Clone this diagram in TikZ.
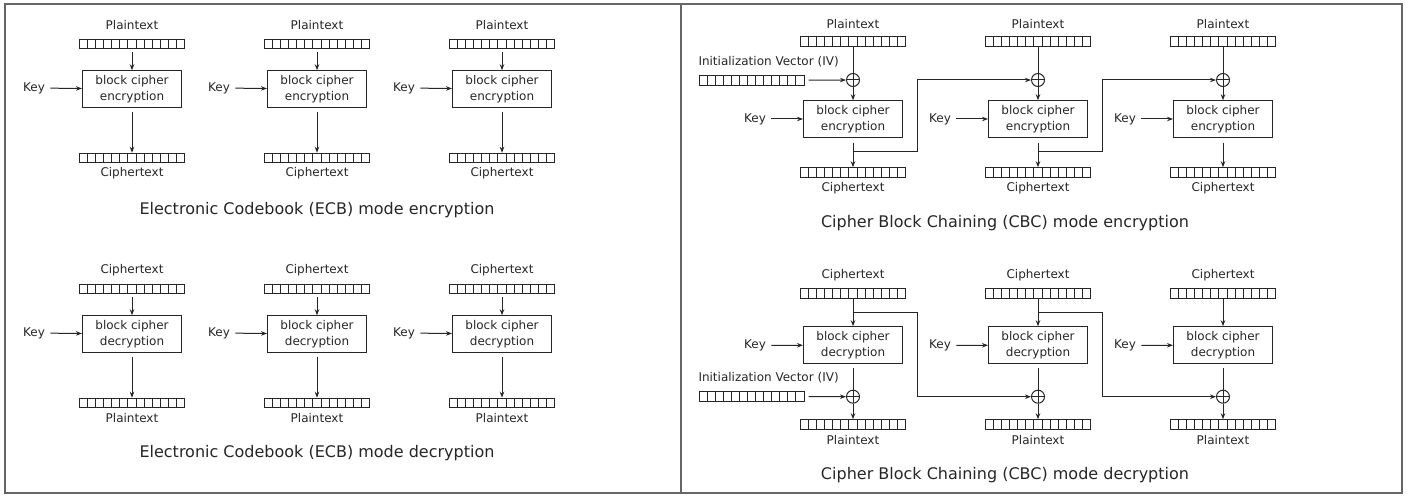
\documentclass[tikz,border=0pt]{standalone}
\usepackage{fontspec}
\setmainfont{DejaVu Sans}
\usetikzlibrary{positioning,calc,arrows.meta}

\begin{document}
\begin{tikzpicture}[x=1pt,y=-1pt,color=black!85,line width=1pt,
    >={Stealth[length=6pt,width=4.5pt]},
    every node/.style={inner sep=0pt, font=\fontsize{12}{15.5}\selectfont},
    register/.style={draw, minimum width=105pt, minimum height=9.5pt,
        path picture={\foreach \k in {1,...,12}
            \draw ([xshift={\k*8.077pt}]path picture bounding box.south west)
               -- ([xshift={\k*8.077pt}]path picture bounding box.north west);}},
    cipherbox/.style={draw, align=center, minimum width=99pt, minimum height=36.5pt},
    xor/.style={draw, circle, minimum size=13pt,
        path picture={\draw (path picture bounding box.north) -- (path picture bounding box.south)
            (path picture bounding box.west) -- (path picture bounding box.east);}},
    title/.style={font=\fontsize{16}{19}\selectfont},
    frame/.style={draw=black!60, line width=2pt}]
    \useasboundingbox (0,0) rectangle (1408,497);
    \draw[frame] (4.5,4.5) rectangle (1401.5,492.5);
    \draw[frame] (681,4.5) -- (681,492.5);

    % ECB encryption
    \foreach \i in {0,1,2} {
        \pgfmathsetmacro{\x}{132+185*\i}
        \node (ep\i) at (\x,25) {Plaintext};
        \node[register] (epr\i) at (\x,44) {};
        \node[cipherbox] (eb\i) at (\x,89) {block cipher\\encryption};
        \node (ek\i) at (\x-98,88) {Key};
        \node[register] (ecr\i) at (\x,158) {};
        \node (ec\i) at (\x,173) {Ciphertext};
        \path[->]
            (epr\i) edge [shorten <=3pt] (eb\i)
            (ek\i) edge [shorten <=5pt] (eb\i)
            (eb\i) edge [shorten <=4pt] (ecr\i);
    }
    \node[title] (ecbenc) at (317,210) {Electronic Codebook (ECB) mode encryption};

    % ECB decryption
    \foreach \i in {0,1,2} {
        \pgfmathsetmacro{\x}{132+185*\i}
        \node (dc\i) at (\x,270) {Ciphertext};
        \node[register] (dcr\i) at (\x,289) {};
        \node[cipherbox] (db\i) at (\x,334) {block cipher\\decryption};
        \node (dk\i) at (\x-98,333) {Key};
        \node[register] (dpr\i) at (\x,403) {};
        \node (dp\i) at (\x,418) {Plaintext};
        \path[->]
            (dcr\i) edge [shorten <=3pt] (db\i)
            (dk\i) edge [shorten <=5pt] (db\i)
            (db\i) edge [shorten <=4pt] (dpr\i);
    }
    \node[title] (ecbdec) at (317,453) {Electronic Codebook (ECB) mode decryption};

    % CBC encryption
    \foreach \i in {0,1,2} {
        \pgfmathsetmacro{\x}{853+185*\i}
        \node (cp\i) at (\x,24) {Plaintext};
        \node[register] (cpr\i) at (\x,41.5) {};
        \node[xor] (cx\i) at (\x,80) {};
        \node[cipherbox] (cb\i) at (\x,119) {block cipher\\encryption};
        \node (ck\i) at (\x-98,119) {Key};
        \coordinate (ct\i) at (\x,152);
        \node[register] (ccr\i) at (\x,172.5) {};
        \node (cc\i) at (\x,188) {Ciphertext};
        \draw (cpr\i) -- (cx\i);
        \draw[shorten <=5pt] (cb\i) -- (ct\i);
        \path[->]
            (cx\i) edge (cb\i)
            (ck\i) edge [shorten <=5pt] (cb\i)
            (ct\i) edge (ccr\i);
    }
    \foreach \i/\j in {0/1,1/2} {
        \pgfmathsetmacro{\x}{853+185*\i}
        \coordinate (cj\i) at (\x+64,80);
        \draw[->] (ct\i) -| (cj\i) -- (cx\j);
    }
    \node[anchor=west] (civ) at (698,62) {Initialization Vector (IV)};
    \node[register] (civr) at (751.5,80.5) {};
    \draw[->, shorten <=4pt] (civr) -- (cx0);
    \node[title] (cbcenc) at (1005,223) {Cipher Block Chaining (CBC) mode encryption};

    % CBC decryption
    \foreach \i in {0,1,2} {
        \pgfmathsetmacro{\x}{853+185*\i}
        \node (fc\i) at (\x,275) {Ciphertext};
        \node[register] (fcr\i) at (\x,293.5) {};
        \coordinate (ft\i) at (\x,312);
        \node[cipherbox] (fb\i) at (\x,345) {block cipher\\decryption};
        \node (fk\i) at (\x-98,345.5) {Key};
        \node[xor] (fx\i) at (\x,396.7) {};
        \node[register] (fpr\i) at (\x,424.5) {};
        \node (fp\i) at (\x,440) {Plaintext};
        \draw (fcr\i) -- (ft\i);
        \draw[shorten <=4pt] (fb\i) -- (fx\i);
        \path[->]
            (ft\i) edge (fb\i)
            (fk\i) edge [shorten <=5pt] (fb\i)
            (fx\i) edge (fpr\i);
    }
    \foreach \i/\j in {0/1,1/2} {
        \pgfmathsetmacro{\x}{853+185*\i}
        \coordinate (fj\i) at (\x+64,396.7);
        \draw[->] (ft\i) -| (fj\i) -- (fx\j);
    }
    \node[anchor=west] (fiv) at (698,378) {Initialization Vector (IV)};
    \node[register] (fivr) at (751.5,396.5) {};
    \draw[->, shorten <=4pt] (fivr) -- (fx0);
    \node[title] (cbcdec) at (1005,475) {Cipher Block Chaining (CBC) mode decryption};
\end{tikzpicture}
\end{document}
